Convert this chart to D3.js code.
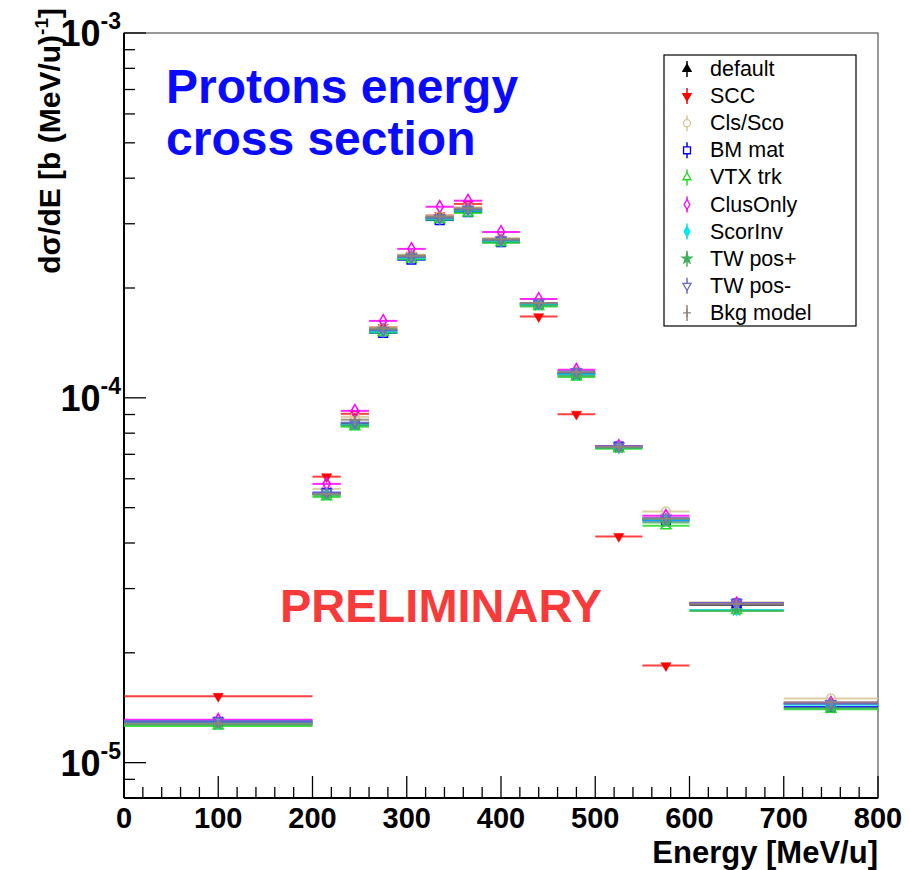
<!DOCTYPE html>
<html>
<head>
<meta charset="utf-8">
<script src="https://cdn.jsdelivr.net/npm/d3@7"></script>
<style>
  html, body { margin: 0; padding: 0; background: #ffffff; }
  svg { display: block; }
  text { font-family: "Liberation Sans", Arial, Helvetica, sans-serif; }
</style>
</head>
<body>
<svg id="chart" width="910" height="870"></svg>
<script>
// ---------------- DATA ----------------
const binLow  = [0, 200, 230, 260, 290, 320, 350, 380, 420, 460, 500, 550, 600, 700];
const binHigh = [200, 230, 260, 290, 320, 350, 380, 420, 460, 500, 550, 600, 700, 800];

const seriesNames = ["default", "SCC", "Cls/Sco", "BM mat", "VTX trk", "ClusOnly", "ScorInv", "TW pos+", "TW pos-", "Bkg model"];

const defaultVals  = [1.28e-5, 5.45e-5, 8.50e-5, 1.53e-4, 2.43e-4, 3.12e-4, 3.28e-4, 2.70e-4, 1.81e-4, 1.170e-4, 7.33e-5, 4.65e-5, 2.71e-5, 1.450e-5];
const sccVals      = [1.52e-5, 6.08e-5, 9.04e-5, 1.56e-4, 2.46e-4, 3.16e-4, 3.40e-4, 2.72e-4, 1.67e-4, 9.02e-5, 4.17e-5, 1.845e-5, null, null];
const clsScoVals   = [1.28e-5, 5.63e-5, 8.87e-5, 1.56e-4, 2.47e-4, 3.15e-4, 3.33e-4, 2.74e-4, 1.82e-4, 1.180e-4, 7.38e-5, 4.88e-5, 2.75e-5, 1.500e-5];
const bmMatVals    = [1.294e-5, 5.49e-5, 8.43e-5, 1.507e-4, 2.39e-4, 3.07e-4, 3.23e-4, 2.67e-4, 1.80e-4, 1.160e-4, 7.35e-5, 4.61e-5, 2.73e-5, 1.420e-5];
const vtxTrkVals   = [1.26e-5, 5.35e-5, 8.33e-5, 1.51e-4, 2.40e-4, 3.08e-4, 3.21e-4, 2.66e-4, 1.78e-4, 1.140e-4, 7.25e-5, 4.46e-5, 2.61e-5, 1.400e-5];
const clusOnlyVals = [1.31e-5, 5.81e-5, 9.21e-5, 1.625e-4, 2.56e-4, 3.34e-4, 3.47e-4, 2.85e-4, 1.867e-4, 1.193e-4, 7.38e-5, 4.75e-5, 2.73e-5, 1.460e-5];
const scorInvVals  = [1.28e-5, 5.45e-5, 8.45e-5, 1.52e-4, 2.42e-4, 3.10e-4, 3.26e-4, 2.69e-4, 1.80e-4, 1.160e-4, 7.30e-5, 4.63e-5, 2.62e-5, 1.440e-5];
const twPosPVals   = [1.27e-5, 5.40e-5, 8.40e-5, 1.54e-4, 2.45e-4, 3.13e-4, 3.27e-4, 2.70e-4, 1.79e-4, 1.150e-4, 7.28e-5, 4.55e-5, 2.61e-5, 1.410e-5];
const twPosMVals   = [1.30e-5, 5.50e-5, 8.55e-5, 1.53e-4, 2.43e-4, 3.11e-4, 3.29e-4, 2.71e-4, 1.82e-4, 1.180e-4, 7.37e-5, 4.68e-5, 2.74e-5, 1.450e-5];
const bkgModelVals = [1.28e-5, 5.45e-5, 8.71e-5, 1.55e-4, 2.45e-4, 3.14e-4, 3.31e-4, 2.72e-4, 1.82e-4, 1.175e-4, 7.34e-5, 4.66e-5, 2.72e-5, 1.463e-5];

const xTickValues = [0, 100, 200, 300, 400, 500, 600, 700, 800];
const yDecades = [1e-5, 1e-4, 1e-3];
const yDecadeExp = ["-5", "-4", "-3"];

// --------------- STYLE -----------------
const seriesStyles = [
  { color: "#000000", shape: "triUp",   filled: true  },
  { color: "#ff0000", shape: "triDown", filled: true  },
  { color: "#d4c794", shape: "circle",  filled: false },
  { color: "#0000ff", shape: "square",  filled: false },
  { color: "#22dd22", shape: "triUp",   filled: false },
  { color: "#ff00ff", shape: "diamond", filled: false },
  { color: "#00e8f0", shape: "diamond", filled: true  },
  { color: "#3fb05a", shape: "star",    filled: true  },
  { color: "#6a6acc", shape: "triDown", filled: false },
  { color: "#8f8576", shape: "plus",    filled: false }
];
const seriesValues = [defaultVals, sccVals, clsScoVals, bmMatVals, vtxTrkVals, clusOnlyVals, scorInvVals, twPosPVals, twPosMVals, bkgModelVals];

const plot = { left: 124, right: 878, top: 33, bottom: 798 };

const svg = d3.select("#chart");

const x = d3.scaleLinear().domain([0, 800]).range([plot.left, plot.right]);
const y = d3.scaleLog().domain([8e-6, 1e-3]).range([plot.bottom, plot.top]);

// frame
svg.append("rect")
  .attr("x", plot.left).attr("y", plot.top)
  .attr("width", plot.right - plot.left).attr("height", plot.bottom - plot.top)
  .attr("fill", "#ffffff").attr("stroke", "#555").attr("stroke-width", 1.2);

// ---- X axis ticks ----
const xMinor = d3.range(0, 801, 20);
svg.append("g").selectAll("line").data(xMinor).join("line")
  .attr("x1", d => x(d)).attr("x2", d => x(d))
  .attr("y1", plot.bottom).attr("y2", d => plot.bottom - (d % 100 === 0 ? 22 : 11))
  .attr("stroke", "#000").attr("stroke-width", 1.3);
svg.append("line").attr("x1", plot.left).attr("x2", plot.right)
  .attr("y1", plot.bottom).attr("y2", plot.bottom).attr("stroke", "#000").attr("stroke-width", 2);

svg.append("g").selectAll("text").data(xTickValues).join("text")
  .attr("x", d => x(d)).attr("y", 828)
  .attr("text-anchor", "middle")
  .attr("font-size", 29).attr("font-weight", "bold")
  .text(d => d);

svg.append("text").attr("x", plot.right).attr("y", 863)
  .attr("text-anchor", "end").attr("font-size", 31).attr("font-weight", "bold")
  .text("Energy [MeV/u]");

// ---- Y axis ticks ----
const yMinor = [];
[1e-5, 1e-4].forEach(dec => { for (let k = 1; k <= 9; k++) yMinor.push(dec * k); });
yMinor.push(8e-6, 9e-6, 1e-3);
svg.append("g").selectAll("line").data(yMinor).join("line")
  .attr("x1", plot.left).attr("x2", d => plot.left + (yDecades.some(t => Math.abs(t - d) / t < 1e-6) ? 22 : 11))
  .attr("y1", d => y(d)).attr("y2", d => y(d))
  .attr("stroke", "#000").attr("stroke-width", 1.3);
svg.append("line").attr("x1", plot.left).attr("x2", plot.left)
  .attr("y1", plot.top).attr("y2", plot.bottom).attr("stroke", "#000").attr("stroke-width", 2);

const yl = svg.append("g").selectAll("text").data(yDecades).join("text")
  .attr("x", 121).attr("y", d => y(d) + 13)
  .attr("text-anchor", "end")
  .attr("font-weight", "bold");
yl.append("tspan").attr("font-size", 36).text("10");
yl.append("tspan").attr("font-size", 23).attr("dy", -17).text((d, i) => yDecadeExp[i]);

// Y axis title (rotated)
const yt = svg.append("text")
  .attr("transform", "translate(60,8) rotate(-90)")
  .attr("text-anchor", "end")
  .attr("font-size", 30).attr("font-weight", "bold");
yt.append("tspan").text("d\u03c3/dE [b (MeV/u)");
yt.append("tspan").attr("font-size", 19).attr("dy", -12).text("-1");
yt.append("tspan").attr("dy", 12).text("]");

// ---- marker generator ----
function markerPath(shape, s) {
  switch (shape) {
    case "triUp":
    case "triDown": return d3.symbol(d3.symbolTriangle, s * s * 0.45)();
    case "circle":  return d3.symbol(d3.symbolCircle, s * s * 0.6)();
    case "square":  return d3.symbol(d3.symbolSquare, s * s * 0.75)();
    case "diamond": return d3.symbol(d3.symbolDiamond, s * s * 0.45)();
    case "star":    return d3.symbol(d3.symbolStar, s * s * 0.45)();
    case "plus": {
      const h = s / 2;
      return `M${-h},0L${h},0M0,${-h}L0,${h}`;
    }
  }
}

// ---- data marks ----
const gData = svg.append("g");
seriesValues.forEach((vals, si) => {
  const st = seriesStyles[si];
  const pts = vals.map((v, i) => ({ v, lo: binLow[i], hi: binHigh[i] })).filter(p => p.v != null && p.v >= 8e-6);
  const g = gData.append("g");
  g.selectAll("line").data(pts).join("line")
    .attr("x1", p => x(p.lo)).attr("x2", p => x(p.hi))
    .attr("y1", p => y(p.v)).attr("y2", p => y(p.v))
    .attr("stroke", st.color).attr("stroke-width", 2).attr("stroke-opacity", si === 1 ? 0.75 : 0.85);
  g.selectAll("path").data(pts).join("path")
    .attr("d", markerPath(st.shape, 10))
    .attr("transform", p => `translate(${x((p.lo + p.hi) / 2)},${y(p.v)})` + (st.shape === "triDown" ? " rotate(180)" : ""))
    .attr("fill", st.filled ? st.color : "none")
    .attr("stroke", st.color).attr("stroke-width", st.filled ? 0.5 : 1.5);
});

// ---- title texts ----
svg.append("text").attr("x", 166).attr("y", 103)
  .attr("font-size", 48).attr("font-weight", "bold").attr("fill", "#0a0aff")
  .text("Protons energy");
svg.append("text").attr("x", 166).attr("y", 155)
  .attr("font-size", 48).attr("font-weight", "bold").attr("fill", "#0a0aff")
  .text("cross section");
svg.append("text").attr("x", 441).attr("y", 622)
  .attr("text-anchor", "middle")
  .attr("font-size", 47).attr("font-weight", "bold").attr("fill", "#f83a3a")
  .text("PRELIMINARY");

// ---- legend ----
const leg = svg.append("g");
leg.append("rect").attr("x", 664).attr("y", 55).attr("width", 192).attr("height", 271)
  .attr("fill", "#fff").attr("stroke", "#000").attr("stroke-width", 1.2);
const legRows = leg.selectAll("g.row").data(seriesNames).join("g").attr("class", "row")
  .attr("transform", (d, i) => `translate(0,${69 + i * 27.1})`);
legRows.append("line").attr("x1", 687).attr("x2", 687).attr("y1", -8).attr("y2", 8)
  .attr("stroke", (d, i) => seriesStyles[i].color).attr("stroke-width", 1.5);
legRows.append("path")
  .attr("d", (d, i) => markerPath(seriesStyles[i].shape, 8))
  .attr("transform", (d, i) => `translate(687,0)` + (seriesStyles[i].shape === "triDown" ? " rotate(180)" : ""))
  .attr("fill", (d, i) => seriesStyles[i].filled ? seriesStyles[i].color : "#fff")
  .attr("stroke", (d, i) => seriesStyles[i].color).attr("stroke-width", 1.3);
legRows.append("text").attr("x", 710).attr("y", 7)
  .attr("font-size", 21.5).text(d => d);
</script>
</body>
</html>
